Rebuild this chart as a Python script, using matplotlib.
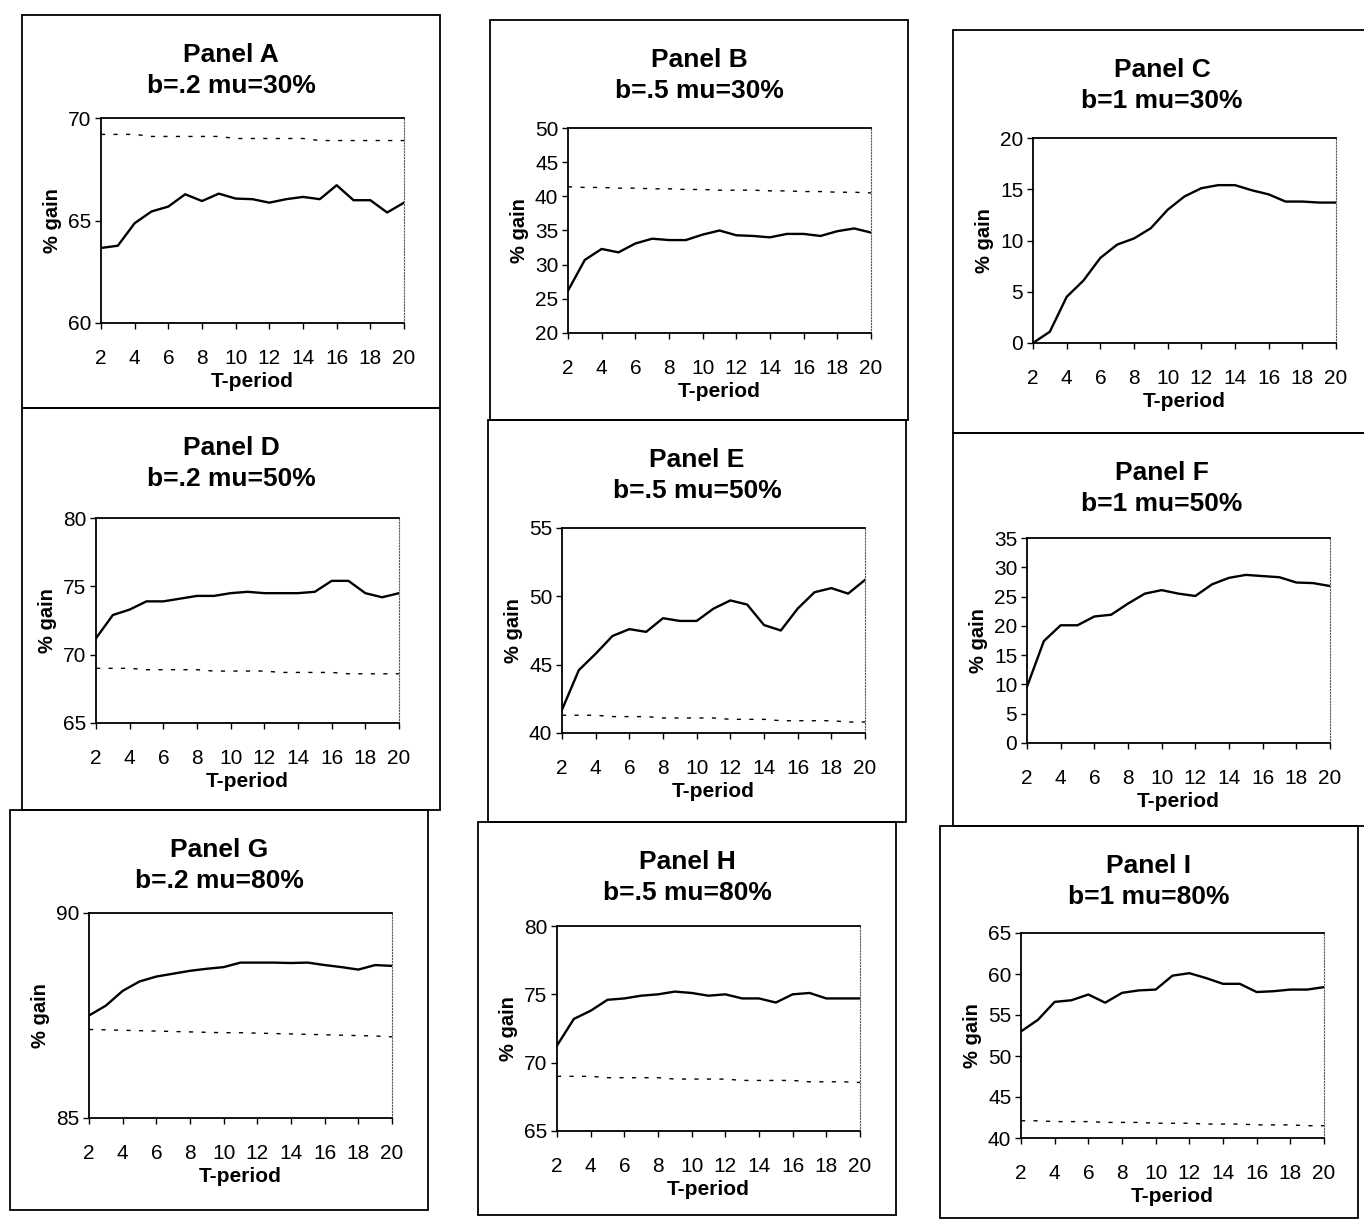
import numpy as np
import matplotlib.pyplot as plt
from matplotlib.patches import Rectangle

plt.rcParams['font.family'] = ['Liberation Sans', 'DejaVu Sans']

W, H = 1364, 1222

t_period = list(range(2, 21))
x_ticks = list(range(2, 21, 2))

panel_names = ["Panel A", "Panel B", "Panel C",
               "Panel D", "Panel E", "Panel F",
               "Panel G", "Panel H", "Panel I"]
panel_params = ["b=.2 mu=30%", "b=.5 mu=30%", "b=1 mu=30%",
                "b=.2 mu=50%", "b=.5 mu=50%", "b=1 mu=50%",
                "b=.2 mu=80%", "b=.5 mu=80%", "b=1 mu=80%"]
y_limits = [(60, 70), (20, 50), (0, 20),
            (65, 80), (40, 55), (0, 35),
            (85, 90), (65, 80), (40, 65)]

# solid series (% gain by T-period)
gain_a = [63.66, 63.77, 64.87, 65.44, 65.68, 66.28, 65.95, 66.31, 66.07, 66.04,
          65.87, 66.04, 66.15, 66.04, 66.72, 65.99, 65.99, 65.39, 65.87]
gain_b = [26.2, 30.7, 32.3, 31.8, 33.1, 33.8, 33.6, 33.6, 34.4, 35.0,
          34.3, 34.2, 34.0, 34.5, 34.5, 34.2, 34.9, 35.3, 34.7]
gain_c = [0.0, 1.1, 4.5, 6.1, 8.3, 9.6, 10.2, 11.2, 13.0, 14.3,
          15.1, 15.4, 15.4, 14.9, 14.5, 13.8, 13.8, 13.7, 13.7]
gain_d = [71.2, 72.9, 73.3, 73.9, 73.9, 74.1, 74.3, 74.3, 74.5, 74.6,
          74.5, 74.5, 74.5, 74.6, 75.4, 75.4, 74.5, 74.2, 74.5]
gain_e = [41.7, 44.6, 45.8, 47.1, 47.6, 47.4, 48.4, 48.2, 48.2, 49.1,
          49.7, 49.4, 47.9, 47.5, 49.1, 50.3, 50.6, 50.2, 51.2]
gain_f = [9.6, 17.4, 20.1, 20.1, 21.6, 21.9, 23.8, 25.5, 26.1, 25.5,
          25.1, 27.1, 28.2, 28.7, 28.5, 28.3, 27.4, 27.3, 26.8]
gain_g = [87.5, 87.74, 88.1, 88.33, 88.45, 88.52, 88.59, 88.64, 88.68, 88.79,
          88.79, 88.79, 88.78, 88.79, 88.73, 88.68, 88.62, 88.73, 88.71]
gain_h = [71.25, 73.2, 73.8, 74.6, 74.7, 74.9, 75.0, 75.2, 75.1, 74.9,
          75.0, 74.7, 74.7, 74.4, 75.0, 75.1, 74.7, 74.7, 74.7]
gain_i = [53.0, 54.4, 56.6, 56.8, 57.5, 56.5, 57.7, 58.0, 58.1, 59.8,
          60.1, 59.5, 58.8, 58.8, 57.8, 57.9, 58.1, 58.1, 58.4]

# dotted series
base_a = [69.2, 69.2, 69.2, 69.1, 69.1, 69.1, 69.1, 69.1, 69.0, 69.0,
          69.0, 69.0, 69.0, 68.9, 68.9, 68.9, 68.9, 68.9, 68.9]
base_b = [41.4, 41.3, 41.3, 41.2, 41.2, 41.1, 41.1, 41.0, 41.0, 40.9,
          40.9, 40.9, 40.8, 40.8, 40.7, 40.7, 40.6, 40.6, 40.5]
base_d = [69.0, 69.0, 69.0, 68.9, 68.9, 68.9, 68.9, 68.8, 68.8, 68.8,
          68.8, 68.7, 68.7, 68.7, 68.7, 68.6, 68.6, 68.6, 68.6]
base_e = [41.3, 41.3, 41.3, 41.2, 41.2, 41.2, 41.1, 41.1, 41.1, 41.1,
          41.0, 41.0, 41.0, 40.9, 40.9, 40.9, 40.9, 40.8, 40.8]
base_g = [87.16, 87.15, 87.14, 87.13, 87.12, 87.11, 87.10, 87.09, 87.08, 87.08,
          87.07, 87.06, 87.05, 87.04, 87.03, 87.02, 87.01, 87.00, 86.98]
base_h = [69.0, 69.0, 69.0, 68.9, 68.9, 68.9, 68.9, 68.8, 68.8, 68.8,
          68.8, 68.7, 68.7, 68.7, 68.7, 68.6, 68.6, 68.6, 68.55]
base_i = [42.1, 42.1, 42.0, 42.0, 42.0, 41.9, 41.9, 41.9, 41.8, 41.8,
          41.8, 41.7, 41.7, 41.7, 41.6, 41.6, 41.6, 41.5, 41.5]

gains = [gain_a, gain_b, gain_c, gain_d, gain_e, gain_f, gain_g, gain_h, gain_i]
bases = [base_a, base_b, None, base_d, base_e, None, base_g, base_h, base_i]

# layout in pixels: panel box (left, top, height) and plot area (left, top)
boxes = [(22, 15, 393), (490, 20, 400), (953, 30, 403),
         (22, 408, 402), (488, 420, 402), (953, 433, 393),
         (10, 810, 400), (478, 822, 393), (940, 826, 392)]
plot_areas = [(101, 118), (568, 128), (1033, 138),
              (96, 518), (562, 528), (1027, 538),
              (89, 913), (557, 926), (1021, 933)]
box_w = 418
pa_w, pa_h = 303, 205


def main():
    fig = plt.figure(figsize=(W / 100, H / 100), dpi=100)

    for i in range(9):
        bx, by, bh = boxes[i]
        fig.add_artist(Rectangle((bx / W, 1 - (by + bh) / H), box_w / W, bh / H,
                                 transform=fig.transFigure, fill=False,
                                 edgecolor='black', linewidth=1.3))
        cx = (bx + box_w / 2) / W
        fig.text(cx, 1 - (by + 40) / H, panel_names[i], ha='center', va='center',
                 fontsize=19, fontweight='bold')
        fig.text(cx, 1 - (by + 71) / H, panel_params[i], ha='center', va='center',
                 fontsize=19, fontweight='bold')

        px, py = plot_areas[i]
        ax = fig.add_axes([px / W, 1 - (py + pa_h) / H, pa_w / W, pa_h / H])
        ax.plot(t_period, gains[i], color='black', linewidth=1.7)
        if bases[i] is not None:
            ax.plot(t_period, bases[i], color='black', linewidth=1.0,
                    linestyle=(0, (3, 6)))
        lo, hi = y_limits[i]
        ax.set_ylim(lo, hi)
        ax.set_yticks(np.arange(lo, hi + 1, 5))
        ax.set_xlim(2, 20)
        ax.set_xticks(x_ticks)
        ax.tick_params(direction='out', length=4, width=1, labelsize=15)
        ax.tick_params(axis='x', pad=15)
        ax.tick_params(axis='y', pad=3)
        for s in ['left', 'bottom', 'top']:
            ax.spines[s].set_linewidth(1.3)
        ax.spines['right'].set_linestyle(':')
        ax.spines['right'].set_color('0.35')
        ax.set_xlabel("T-period", fontsize=15, fontweight='bold')
        ax.xaxis.set_label_coords(0.5, -0.24)
        ax.set_ylabel("% gain", fontsize=14.5, fontweight='bold')
        ax.yaxis.set_label_coords(-0.13, 0.5)

    plt.savefig("out.png", dpi=100)


if __name__ == "__main__":
    main()
